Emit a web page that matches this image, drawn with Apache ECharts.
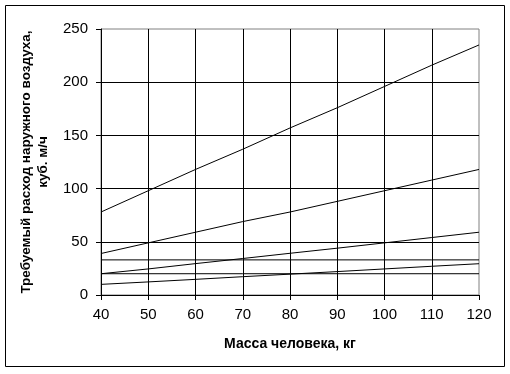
<!DOCTYPE html>
<html>
<head>
<meta charset="utf-8">
<script src="https://cdn.jsdelivr.net/npm/echarts@6/dist/echarts.min.js"></script>
<style>
html,body{margin:0;padding:0;background:#fff;}
#c{width:510px;height:374px;}
</style>
</head>
<body>
<div id="c"></div>
<script>
const masses = [40, 50, 60, 70, 80, 90, 100, 110, 120];
const seriesA = [78, 98, 118, 137, 157, 176, 196, 216, 235];
const seriesB = [39, 49, 59, 69, 78, 88, 98, 108, 118];
const seriesC = [20, 24.5, 29.5, 34.3, 39.2, 44, 49, 54, 59];
const seriesD = [10, 12.3, 14.7, 17.2, 19.6, 22, 24.5, 27, 29.4];
const seriesE = [33, 33, 33, 33, 33, 33, 33, 33, 33];
const seriesF = [20, 20, 20, 20, 20, 20, 20, 20, 20];
const xTitle = 'Масса человека, кг';
const yTitle = 'Требуемый расход наружного воздуха,\nкуб. м/ч';

const allSeries = [seriesA, seriesB, seriesC, seriesD, seriesE, seriesF];
const chart = echarts.init(document.getElementById('c'), null, {renderer: 'canvas'});
const font = 'Liberation Sans, Arial, sans-serif';
chart.setOption({
  animation: false,
  backgroundColor: '#fff',
  grid: {left: 101, right: 31, top: 29, bottom: 79, show: true, borderColor: '#808080', borderWidth: 1, backgroundColor: 'transparent'},
  graphic: [{
    type: 'rect', shape: {x: 5.5, y: 5.5, width: 499, height: 361},
    style: {fill: 'none', stroke: '#000', lineWidth: 1}, z: 100
  }],
  xAxis: {
    type: 'value', min: 40, max: 120, interval: 10,
    name: xTitle, nameLocation: 'middle', nameGap: 42,
    nameTextStyle: {fontFamily: font, fontSize: 14, fontWeight: 'bold', color: '#000'},
    axisLine: {show: true, lineStyle: {color: '#000', width: 1}},
    axisTick: {show: true, inside: false, length: 5, lineStyle: {color: '#000'}},
    axisLabel: {fontFamily: font, fontSize: 15, color: '#000', margin: 12},
    splitLine: {show: true, showMaxLine: false, lineStyle: {color: '#000', width: 1}}
  },
  yAxis: {
    type: 'value', min: 0, max: 250, interval: 50,
    name: yTitle, nameLocation: 'middle', nameGap: 47, nameRotate: 90,
    nameTextStyle: {fontFamily: font, fontSize: 13.5, fontWeight: 'bold', color: '#000', lineHeight: 17, align: 'center'},
    axisLine: {show: true, lineStyle: {color: '#000', width: 1}},
    axisTick: {show: true, inside: false, length: 5, lineStyle: {color: '#000'}},
    axisLabel: {fontFamily: font, fontSize: 15, color: '#000', margin: 13},
    splitLine: {show: true, showMaxLine: false, lineStyle: {color: '#000', width: 1}}
  },
  series: allSeries.map(s => ({
    type: 'line',
    data: masses.map((m, i) => [m, s[i]]),
    showSymbol: false, symbol: 'none',
    lineStyle: {color: '#000', width: 1},
    silent: true, z: 3
  }))
});
</script>
</body>
</html>
